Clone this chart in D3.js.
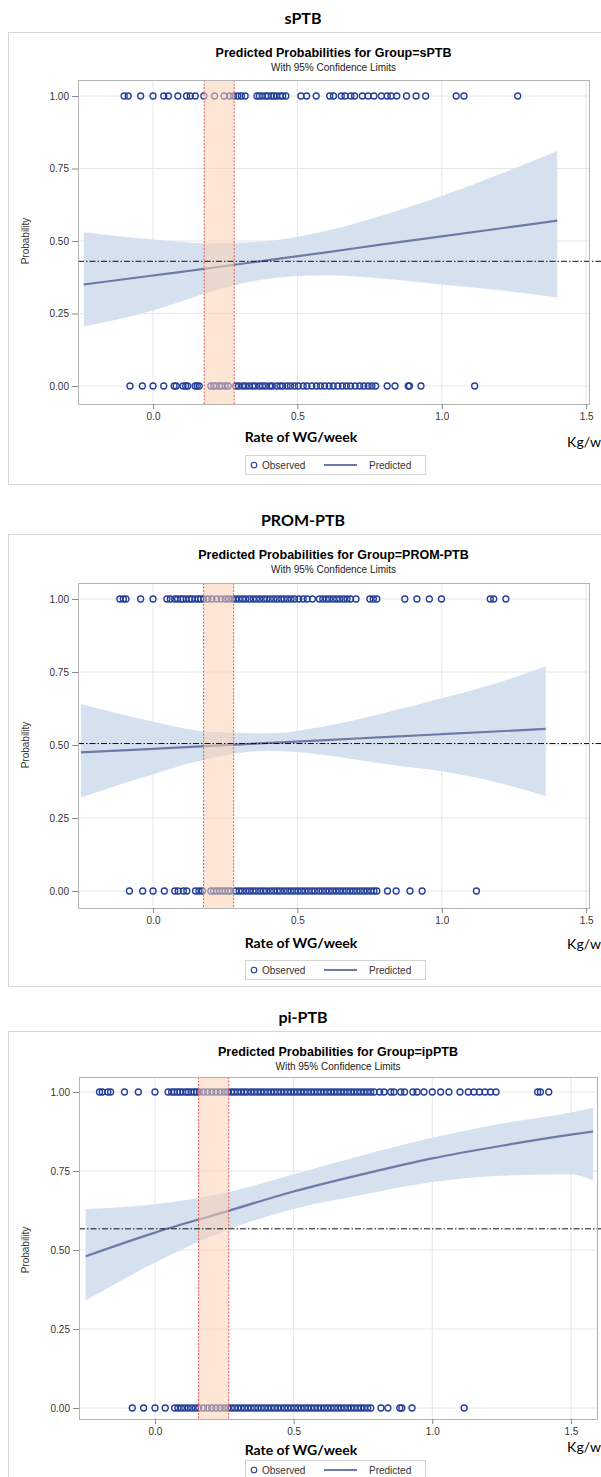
<!DOCTYPE html>
<html>
<head>
<meta charset="utf-8">
<script src="https://cdn.jsdelivr.net/npm/d3@7"></script>
<style>
  body { margin: 0; background: #fff; }
  svg { display: block; }
</style>
</head>
<body>
<div id="plot"></div>
<script>
// ---- data ----
const xTicks = [0, 0.5, 1.0, 1.5];
const yTicks = [0, 0.25, 0.5, 0.75, 1.0];

// sPTB
const sptbObs1 = [-0.10, -0.086, -0.043, 0.0, 0.037, 0.053, 0.086, 0.116, 0.129, 0.146, 0.176, 0.213, 0.246, 0.266, 0.279, 0.293, 0.306, 0.319,
  0.36, 0.368, 0.378, 0.39, 0.398, 0.41, 0.418, 0.427, 0.44, 0.449, 0.46, 0.512, 0.532, 0.565, 0.612, 0.625, 0.652, 0.665, 0.685, 0.698,
  0.725, 0.745, 0.765, 0.791, 0.811, 0.824, 0.844, 0.878, 0.911, 0.944, 1.05, 1.077, 1.263];
const sptbObs0 = [-0.08, -0.037, 0.0, 0.037, 0.073, 0.08, 0.104, 0.113, 0.12, 0.146, 0.153, 0.16, 0.2, 0.21, 0.218, 0.23, 0.238, 0.25, 0.26,
  0.286, 0.296, 0.31, 0.32, 0.333, 0.345, 0.354, 0.368, 0.379, 0.39, 0.404, 0.413, 0.428, 0.44, 0.449, 0.464, 0.476, 0.49, 0.503, 0.52,
  0.533, 0.55, 0.566, 0.58, 0.594, 0.61, 0.624, 0.64, 0.656, 0.67, 0.684, 0.7, 0.716, 0.73, 0.745, 0.758, 0.771, 0.811, 0.838, 0.884,
  0.888, 0.928, 1.114];
const sptbCurveX = [-0.24, 0.0, 0.2, 0.4, 0.6, 0.8, 1.0, 1.2, 1.4];
const sptbPred   = [0.350, 0.381, 0.407, 0.434, 0.461, 0.489, 0.516, 0.543, 0.570];
const sptbUpper  = [0.530, 0.505, 0.492, 0.500, 0.535, 0.590, 0.655, 0.730, 0.810];
const sptbLower  = [0.205, 0.260, 0.325, 0.370, 0.382, 0.370, 0.350, 0.330, 0.305];
const sptbRef = 0.43;
const sptbBand = [0.177, 0.281];

// PROM-PTB
const promObs1 = [-0.115, -0.103, -0.094, -0.043, 0.0, 0.048, 0.06, 0.075, 0.085, 0.096, 0.104, 0.115, 0.126, 0.134, 0.145, 0.156, 0.165,
  0.175, 0.19, 0.204, 0.22, 0.236, 0.25, 0.262, 0.275, 0.286, 0.298, 0.31, 0.321, 0.334, 0.347, 0.358, 0.37, 0.383, 0.394, 0.406, 0.418,
  0.43, 0.443, 0.454, 0.466, 0.478, 0.49, 0.505, 0.52, 0.534, 0.552, 0.576, 0.588, 0.6, 0.611, 0.624, 0.636, 0.647, 0.66, 0.672, 0.684,
  0.703, 0.751, 0.763, 0.775, 0.872, 0.914, 0.957, 0.999, 1.168, 1.18, 1.222];
const promObs0 = [-0.082, -0.036, 0.0, 0.039, 0.075, 0.087, 0.105, 0.117, 0.147, 0.159, 0.171, 0.2, 0.21, 0.22, 0.23, 0.24, 0.25, 0.26,
  0.268, 0.286, 0.298, 0.309, 0.322, 0.334, 0.346, 0.357, 0.37, 0.382, 0.393, 0.406, 0.418, 0.43, 0.441, 0.454, 0.466, 0.478, 0.49,
  0.502, 0.514, 0.526, 0.538, 0.55, 0.561, 0.574, 0.586, 0.598, 0.61, 0.622, 0.634, 0.646, 0.658, 0.67, 0.682, 0.694, 0.706, 0.718,
  0.73, 0.742, 0.754, 0.765, 0.775, 0.812, 0.842, 0.89, 0.932, 1.12];
const promCurveX = [-0.25, 0.0, 0.2, 0.4, 0.6, 0.8, 1.0, 1.2, 1.36];
const promPred   = [0.475, 0.487, 0.497, 0.507, 0.517, 0.527, 0.537, 0.547, 0.555];
const promUpper  = [0.640, 0.580, 0.545, 0.540, 0.565, 0.610, 0.660, 0.715, 0.770];
const promLower  = [0.320, 0.400, 0.455, 0.480, 0.465, 0.435, 0.410, 0.370, 0.325];
const promRef = 0.505;
const promBand = [0.175, 0.279];

// ipPTB
const ipObs1 = [-0.2, -0.19, -0.17, -0.16, -0.11, -0.06, 0.0, 0.047, 0.06, 0.07, 0.081, 0.09, 0.1, 0.112, 0.12, 0.13, 0.141, 0.15, 0.16,
  0.175, 0.19, 0.205, 0.22, 0.235, 0.25, 0.262, 0.275, 0.286, 0.298, 0.31, 0.322, 0.333, 0.346, 0.358, 0.37, 0.382, 0.394, 0.406, 0.418,
  0.43, 0.442, 0.454, 0.466, 0.478, 0.49, 0.502, 0.514, 0.526, 0.538, 0.55, 0.562, 0.574, 0.586, 0.598, 0.61, 0.622, 0.634, 0.646,
  0.658, 0.67, 0.682, 0.694, 0.706, 0.718, 0.73, 0.742, 0.754, 0.766, 0.778, 0.79, 0.81, 0.826, 0.85, 0.862, 0.886, 0.9, 0.93, 0.945,
  0.97, 1.0, 1.03, 1.06, 1.1, 1.13, 1.15, 1.17, 1.19, 1.21, 1.23, 1.38, 1.39, 1.42];
const ipObs0 = [-0.082, -0.041, 0.0, 0.037, 0.071, 0.083, 0.095, 0.107, 0.12, 0.133, 0.146, 0.158, 0.175, 0.19, 0.205, 0.22, 0.235, 0.25,
  0.263, 0.275, 0.287, 0.299, 0.311, 0.323, 0.335, 0.347, 0.359, 0.371, 0.383, 0.395, 0.407, 0.419, 0.431, 0.443, 0.455, 0.467, 0.479,
  0.491, 0.503, 0.515, 0.527, 0.539, 0.551, 0.563, 0.575, 0.587, 0.599, 0.611, 0.623, 0.635, 0.647, 0.659, 0.671, 0.683, 0.695, 0.707,
  0.719, 0.731, 0.743, 0.755, 0.767, 0.778, 0.815, 0.84, 0.883, 0.89, 0.927, 1.115];
const ipCurveX = [-0.25, 0.0, 0.25, 0.5, 0.75, 1.0, 1.25, 1.5, 1.58];
const ipPred   = [0.480, 0.555, 0.620, 0.685, 0.740, 0.790, 0.830, 0.865, 0.875];
const ipUpper  = [0.630, 0.645, 0.680, 0.740, 0.800, 0.855, 0.900, 0.935, 0.950];
const ipLower  = [0.340, 0.460, 0.560, 0.630, 0.675, 0.715, 0.735, 0.740, 0.720];
const ipRef = 0.567;
const ipBand = [0.157, 0.266];

// ---- layout ----
const W = 601, H = 1477;
const svg = d3.select("#plot").append("svg").attr("width", W).attr("height", H);

const panels = [
  {heading: "sPTB", group: "sPTB", top: 0, frameBottom: 484,
   plot: {left: 78, right: 589, top: 80, bottom: 404}, y1: 96, y0: 386, xDomain: [-0.26, 1.51],
   labelDy: 38, kgDy: 43, legendDy: 61,
   obs1: sptbObs1, obs0: sptbObs0, cx: sptbCurveX, pred: sptbPred, lo: sptbLower, hi: sptbUpper, ref: sptbRef, band: sptbBand},
  {heading: "PROM-PTB", group: "PROM-PTB", top: 502, frameBottom: 986,
   plot: {left: 78, right: 589, top: 583, bottom: 908}, y1: 599, y0: 891, xDomain: [-0.26, 1.51],
   labelDy: 40, kgDy: 41, legendDy: 62,
   obs1: promObs1, obs0: promObs0, cx: promCurveX, pred: promPred, lo: promLower, hi: promUpper, ref: promRef, band: promBand},
  {heading: "pi-PTB", group: "ipPTB", top: 999, frameBottom: 1490,
   plot: {left: 79, right: 597, top: 1077, bottom: 1419}, y1: 1092, y0: 1408, xDomain: [-0.274, 1.594],
   labelDy: 36, kgDy: 33, legendDy: 51,
   obs1: ipObs1, obs0: ipObs0, cx: ipCurveX, pred: ipPred, lo: ipLower, hi: ipUpper, ref: ipRef, band: ipBand}
];

const blue = "#223e98";
const lineCol = "#6a7ba5";

panels.forEach((p, i) => {
  const g = svg.append("g");
  const t = p.top;

  g.append("text")
    .attr("x", 303).attr("y", t + 24)
    .attr("text-anchor", "middle")
    .style("font-family", "Lato, 'Open Sans', sans-serif")
    .style("font-weight", 700).style("font-size", "16px")
    .text(p.heading);

  g.append("rect")
    .attr("x", 8.5).attr("y", t + 32.5)
    .attr("width", 640).attr("height", p.frameBottom - t - 32)
    .attr("fill", "none").attr("stroke", "#d6d6d6");

  const cxMid = (p.plot.left + p.plot.right) / 2;
  g.append("text")
    .attr("x", cxMid).attr("y", t + 57)
    .attr("text-anchor", "middle")
    .style("font-family", "'Liberation Sans', Arial, sans-serif")
    .style("font-weight", 700).style("font-size", "12.5px")
    .text(`Predicted Probabilities for Group=${p.group}`);
  g.append("text")
    .attr("x", cxMid).attr("y", t + 70.5)
    .attr("text-anchor", "middle")
    .style("font-family", "'Liberation Sans', Arial, sans-serif")
    .style("font-size", "10px").attr("fill", "#222")
    .text("With 95% Confidence Limits");

  const x = d3.scaleLinear().domain(p.xDomain).range([p.plot.left, p.plot.right]);
  const y = d3.scaleLinear().domain([0, 1]).range([p.y0, p.y1]);

  const clipId = "clip" + i;
  svg.append("clipPath").attr("id", clipId)
    .append("rect")
    .attr("x", p.plot.left).attr("y", p.plot.top)
    .attr("width", p.plot.right - p.plot.left).attr("height", p.plot.bottom - p.plot.top);

  // gridlines
  g.selectAll(".gx").data(xTicks).enter().append("line")
    .attr("x1", d => x(d)).attr("x2", d => x(d))
    .attr("y1", p.plot.top).attr("y2", p.plot.bottom)
    .attr("stroke", "#e6e6e6");
  g.selectAll(".gy").data(yTicks).enter().append("line")
    .attr("x1", p.plot.left).attr("x2", p.plot.right)
    .attr("y1", d => y(d)).attr("y2", d => y(d))
    .attr("stroke", "#e6e6e6");

  const inner = g.append("g").attr("clip-path", `url(#${clipId})`);
  const curve = p.cx.map((v, k) => ({x: v, pred: p.pred[k], lo: p.lo[k], hi: p.hi[k]}));

  inner.append("path")
    .datum(curve)
    .attr("fill", "#d6e1f0")
    .attr("d", d3.area().curve(d3.curveMonotoneX)
      .x(d => x(d.x)).y0(d => y(d.lo)).y1(d => y(d.hi)));

  inner.append("path")
    .datum(curve)
    .attr("fill", "none").attr("stroke", lineCol).attr("stroke-width", 2.2)
    .attr("d", d3.line().curve(d3.curveMonotoneX)
      .x(d => x(d.x)).y(d => y(d.pred)));

  const obs = p.obs1.map(v => ({x: v, y: 1})).concat(p.obs0.map(v => ({x: v, y: 0})));
  inner.selectAll("circle").data(obs).enter().append("circle")
    .attr("cx", d => x(d.x)).attr("cy", d => y(d.y)).attr("r", 3)
    .attr("fill", "none").attr("stroke", blue).attr("stroke-width", 1.3);

  // highlighted range
  inner.append("rect")
    .attr("x", x(p.band[0])).attr("y", p.plot.top)
    .attr("width", x(p.band[1]) - x(p.band[0])).attr("height", p.plot.bottom - p.plot.top)
    .attr("fill", "#fbd2b4").attr("opacity", 0.55);
  p.band.forEach(b => {
    inner.append("line")
      .attr("x1", x(b)).attr("x2", x(b))
      .attr("y1", p.plot.top).attr("y2", p.plot.bottom)
      .attr("stroke", "#ea5a5a").attr("stroke-width", 1)
      .attr("stroke-dasharray", "2,1.5");
  });

  // reference line runs past the plot edge
  g.append("line")
    .attr("x1", p.plot.left).attr("x2", W)
    .attr("y1", y(p.ref)).attr("y2", y(p.ref))
    .attr("stroke", "#111").attr("stroke-width", 1)
    .attr("stroke-dasharray", "6,2,1.5,2");

  g.append("rect")
    .attr("x", p.plot.left + 0.5).attr("y", p.plot.top + 0.5)
    .attr("width", p.plot.right - p.plot.left).attr("height", p.plot.bottom - p.plot.top)
    .attr("fill", "none").attr("stroke", "#b4b4b4");

  // axes
  const yAxis = g.append("g")
    .attr("transform", `translate(${p.plot.left},0)`)
    .call(d3.axisLeft(y).tickValues(yTicks).tickFormat(d3.format(".2f")).tickSize(6).tickPadding(3));
  const xAxis = g.append("g")
    .attr("transform", `translate(0,${p.plot.bottom})`)
    .call(d3.axisBottom(x).tickValues(xTicks).tickFormat(d3.format(".1f")).tickSize(5).tickPadding(4));
  [yAxis, xAxis].forEach(a => {
    a.select(".domain").remove();
    a.selectAll("line").attr("stroke", "#888");
    a.selectAll("text")
      .style("font-family", "'Liberation Sans', Arial, sans-serif")
      .style("font-size", "10px").attr("fill", "#333");
  });

  g.append("text")
    .attr("transform", `translate(29,${(p.y0 + p.y1) / 2}) rotate(-90)`)
    .attr("text-anchor", "middle")
    .style("font-family", "'Liberation Sans', Arial, sans-serif")
    .style("font-size", "10px").attr("fill", "#333")
    .text("Probability");

  g.append("text")
    .attr("x", 301).attr("y", p.plot.bottom + p.labelDy)
    .attr("text-anchor", "middle")
    .style("font-family", "Lato, 'Open Sans', sans-serif")
    .style("font-weight", 700).style("font-size", "14px")
    .text("Rate of WG/week");

  g.append("text")
    .attr("x", 601).attr("y", p.plot.bottom + p.kgDy)
    .attr("text-anchor", "end")
    .style("font-family", "Lato, 'Open Sans', sans-serif")
    .style("font-size", "14px")
    .text("Kg/w");

  // legend
  const ly = p.plot.bottom + p.legendDy;
  const lg = g.append("g");
  lg.append("rect")
    .attr("x", 245.5).attr("y", ly - 9.5).attr("width", 180).attr("height", 19)
    .attr("fill", "#fff").attr("stroke", "#d4d4d4");
  lg.append("circle").attr("cx", 254).attr("cy", ly).attr("r", 2.8)
    .attr("fill", "none").attr("stroke", blue).attr("stroke-width", 1.1);
  lg.append("line").attr("x1", 324).attr("x2", 357).attr("y1", ly).attr("y2", ly)
    .attr("stroke", lineCol).attr("stroke-width", 2);
  [["Observed", 262], ["Predicted", 369]].forEach(([s, lx]) => {
    lg.append("text").attr("x", lx).attr("y", ly + 3.5)
      .style("font-family", "'Liberation Sans', Arial, sans-serif")
      .style("font-size", "10px").attr("fill", "#333")
      .text(s);
  });
});
</script>
</body>
</html>
